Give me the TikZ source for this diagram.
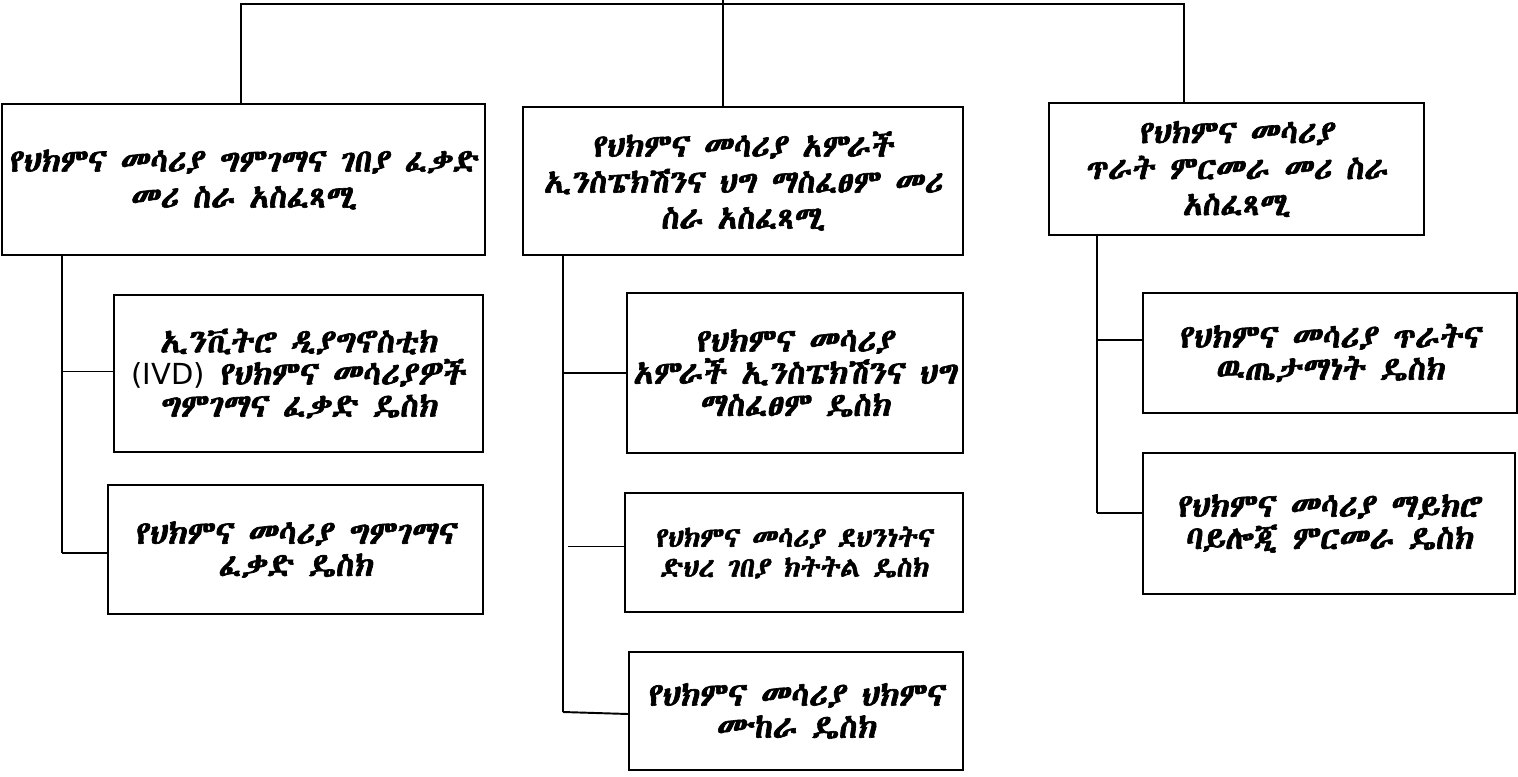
\documentclass[tikz,border=0pt]{standalone}
\usepackage{fontspec}
\usetikzlibrary{calc}
\newfontfamily\ethfont{Abyssinica SIL}[FakeBold=2, FakeSlant=0.12]
\newfontfamily\latfont{DejaVu Sans}

\tikzset{
  box/.style={draw, line width=1.2pt, align=center, inner sep=0pt},
  hqbox/.style={box, font=\ethfont\fontsize{18.2}{20.5}\selectfont},
  deskbox/.style={box, font=\ethfont\fontsize{18.5}{18.3}\selectfont},
  link/.style={line width=1.1pt}
}

\begin{document}
\begin{tikzpicture}[x=0.02cm,y=-0.02cm]
\useasboundingbox (0,0) rectangle (1518,777);

% heads
\node[hqbox, minimum width=483*0.02cm, minimum height=151*0.02cm] (hqeval) at (243.5,179.5)
  {የህክምና መሳሪያ ግምገማና ገበያ ፈቃድ\\መሪ  ስራ አስፈጻሚ};
\node[hqbox, minimum width=440*0.02cm, minimum height=148*0.02cm] (hqinsp) at (743,181)
  {የህክምና መሳሪያ አምራች\\ኢንስፔክሽንና ህግ ማስፈፀም መሪ\\ስራ አስፈጻሚ};
\node[hqbox, minimum width=375*0.02cm, minimum height=132*0.02cm] (hqqual) at (1236.5,169)
  {የህክምና መሳሪያ\\ጥራት ምርመራ መሪ ስራ\\አስፈጻሚ};

% desks
\node[deskbox, minimum width=369*0.02cm, minimum height=157*0.02cm] (ivd) at (298.5,373.5)
  {ኢንቪትሮ ዲያግኖስቲክ\\{\latfont\fontsize{16.5}{16.5}\selectfont(IVD)} የህክምና መሳሪያዎች\\ግምገማና  ፈቃድ ዴስክ};
\node[deskbox, minimum width=375*0.02cm, minimum height=129*0.02cm] (evaldesk) at (295.5,549.5)
  {የህክምና መሳሪያ ግምገማና\\ፈቃድ ዴስክ};
\node[deskbox, minimum width=336*0.02cm, minimum height=160*0.02cm] (inspdesk) at (795,373)
  {የህክምና መሳሪያ\\አምራች ኢንስፔክሽንና ህግ\\ማስፈፀም ዴስክ};
\node[deskbox, font=\ethfont\fontsize{15.8}{17}\selectfont, minimum width=338*0.02cm, minimum height=119*0.02cm] (safedesk) at (794,552.5)
  {የህክምና መሳሪያ ደህንነትና\\ድህረ ገበያ ክትትል ዴስክ};
\node[deskbox, minimum width=334*0.02cm, minimum height=118*0.02cm] (trialdesk) at (796,711)
  {የህክምና መሳሪያ ህክምና\\ሙከራ ዴስክ};
\node[deskbox, minimum width=374*0.02cm, minimum height=120*0.02cm] (effdesk) at (1330,353)
  {የህክምና መሳሪያ ጥራትና\\ዉጤታማነት ዴስክ};
\node[deskbox, minimum width=372*0.02cm, minimum height=141*0.02cm] (microdesk) at (1329,523.5)
  {የህክምና መሳሪያ ማይክሮ\\ባይሎጂ ምርመራ  ዴስክ};

% top bar
\coordinate (topl) at (241,4);
\coordinate (topr) at (1184,4);
\coordinate (topc) at (723,0);
\draw[link] (hqeval.north -| topl) -- (topl) -- (topr) -- (hqqual.north -| topr);
\draw[link] (topc) -- (hqinsp.north -| topc);

% branches
\coordinate (spine1) at (62,553);
\coordinate (spine2) at (563,712);
\coordinate (spine3) at (1097,513);
\draw[link] (hqeval.south -| spine1) -- (spine1);
\draw[link] ($(ivd.west -| spine1)+(0,-2)$) -- ($(ivd.west)+(0,-2)$);
\draw[link] (spine1) -- (evaldesk.west |- spine1);
\draw[link] (hqinsp.south -| spine2) -- (spine2);
\draw[link] (inspdesk.west -| spine2) -- (inspdesk.west);
\draw[link] ($(safedesk.west -| spine2)+(5,-6)$) -- ($(safedesk.west)+(0,-6)$);
\draw[link] (spine2) -- ($(trialdesk.west)+(0,3)$);
\draw[link] (hqqual.south -| spine3) -- (spine3);
\draw[link] ($(effdesk.west -| spine3)+(0,-13)$) -- ($(effdesk.west)+(0,-13)$);
\draw[link] (spine3) -- (microdesk.west |- spine3);
\end{tikzpicture}
\end{document}
